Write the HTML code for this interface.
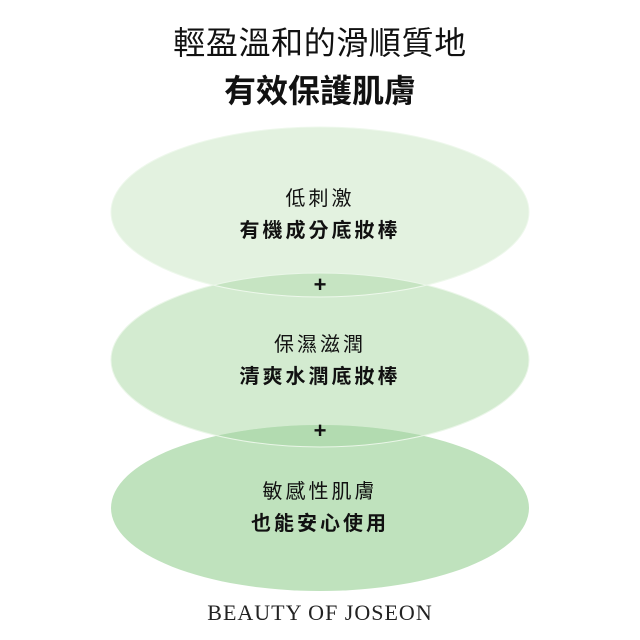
<!DOCTYPE html>
<html><head><meta charset="utf-8"><style>
html,body{margin:0;padding:0;background:#fff;}
body{width:640px;height:640px;position:relative;overflow:hidden;font-family:"Liberation Sans","Noto Sans CJK TC",sans-serif;color:#111;}
.t{position:absolute;left:0;width:640px;text-align:center;white-space:nowrap;}
</style></head><body>
<svg width="640" height="640" style="position:absolute;left:0;top:0">
  <ellipse cx="320" cy="212" rx="209" ry="85" fill="#e3f2e0"/>
  <ellipse cx="320" cy="360" rx="209" ry="87" fill="#d3ebd0"/>
  <ellipse cx="320" cy="508" rx="209" ry="83" fill="#bfe2bd"/>
  <clipPath id="c1"><ellipse cx="320" cy="212" rx="209" ry="85"/></clipPath>
  <clipPath id="c2"><ellipse cx="320" cy="360" rx="209" ry="87"/></clipPath>
  <ellipse cx="320" cy="360" rx="209" ry="87" fill="#c6e4c2" clip-path="url(#c1)"/>
  <ellipse cx="320" cy="508" rx="209" ry="83" fill="#b2dbb0" clip-path="url(#c2)"/>
  <ellipse cx="320" cy="212" rx="209" ry="85" fill="none" stroke="#eef8ec" stroke-width="1"/>
  <ellipse cx="320" cy="360" rx="209" ry="87" fill="none" stroke="#eaf6e8" stroke-width="1"/>
</svg>
<div class="t" style="top:18px;font-size:32px;letter-spacing:0.6px;">輕盈溫和的滑順質地</div>
<div class="t" style="top:66px;font-size:32px;font-weight:bold;">有效保護肌膚</div>
<div class="t" style="top:182px;font-size:20px;letter-spacing:3px;">低刺激</div>
<div class="t" style="top:214px;font-size:20px;font-weight:bold;letter-spacing:3px;">有機成分底妝棒</div>
<div class="t" style="top:272px;font-size:22px;font-weight:bold;">+</div>
<div class="t" style="top:328px;font-size:20px;letter-spacing:3px;">保濕滋潤</div>
<div class="t" style="top:360px;font-size:20px;font-weight:bold;letter-spacing:3px;">清爽水潤底妝棒</div>
<div class="t" style="top:418px;font-size:22px;font-weight:bold;">+</div>
<div class="t" style="top:475px;font-size:20px;letter-spacing:3px;">敏感性肌膚</div>
<div class="t" style="top:507px;font-size:20px;font-weight:bold;letter-spacing:3px;">也能安心使用</div>
<div class="t" style="top:600px;font-size:22px;font-family:'Liberation Serif',serif;letter-spacing:1px;color:#222;">BEAUTY OF JOSEON</div>
</body></html>
